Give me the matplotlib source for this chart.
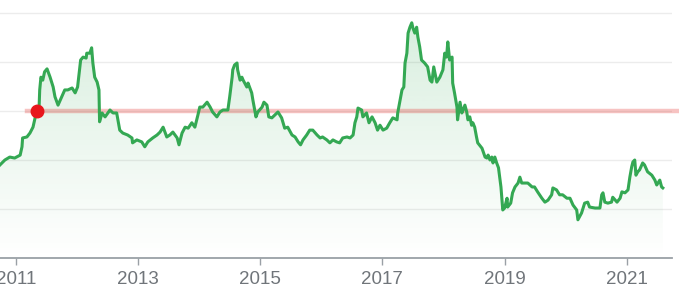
import numpy as np
import matplotlib
matplotlib.use('Agg')
import matplotlib.pyplot as plt

# == price history (decimal year, price) == #
years = [2010.74, 2010.82, 2010.90, 2010.98, 2011.07, 2011.10, 2011.11, 2011.18, 2011.23, 2011.28,
         2011.34, 2011.38, 2011.39, 2011.41, 2011.44, 2011.47, 2011.51, 2011.56, 2011.61, 2011.64,
         2011.69, 2011.75, 2011.80, 2011.85, 2011.92, 2011.97, 2012.01, 2012.06, 2012.10, 2012.15,
         2012.16, 2012.21, 2012.24, 2012.26, 2012.29, 2012.33, 2012.36, 2012.37, 2012.41, 2012.46,
         2012.54, 2012.59, 2012.65, 2012.70, 2012.75, 2012.83, 2012.90, 2012.91, 2012.98, 2013.06,
         2013.11, 2013.16, 2013.24, 2013.31, 2013.36, 2013.41, 2013.47, 2013.52, 2013.57, 2013.64,
         2013.67, 2013.72, 2013.77, 2013.82, 2013.88, 2013.93, 2013.98, 2014.01, 2014.06, 2014.13,
         2014.18, 2014.22, 2014.29, 2014.34, 2014.39, 2014.47, 2014.50, 2014.54, 2014.55, 2014.58,
         2014.62, 2014.63, 2014.67, 2014.70, 2014.72, 2014.78, 2014.80, 2014.86, 2014.88, 2014.93,
         2014.96, 2015.03, 2015.06, 2015.11, 2015.14, 2015.19, 2015.24, 2015.29, 2015.35, 2015.40,
         2015.45, 2015.52, 2015.57, 2015.62, 2015.66, 2015.70, 2015.76, 2015.81, 2015.86, 2015.93,
         2015.98, 2016.02, 2016.09, 2016.14, 2016.19, 2016.25, 2016.30, 2016.35, 2016.42, 2016.47,
         2016.52, 2016.55, 2016.58, 2016.60, 2016.66, 2016.68, 2016.74, 2016.78, 2016.83, 2016.88,
         2016.92, 2016.96, 2017.01, 2017.07, 2017.12, 2017.17, 2017.24, 2017.25, 2017.28, 2017.32,
         2017.35, 2017.37, 2017.40, 2017.42, 2017.45, 2017.48, 2017.50, 2017.53, 2017.56, 2017.58,
         2017.61, 2017.64, 2017.69, 2017.74, 2017.78, 2017.81, 2017.84, 2017.89, 2017.94, 2017.99,
         2018.02, 2018.05, 2018.07, 2018.10, 2018.14, 2018.15, 2018.18, 2018.22, 2018.23, 2018.27,
         2018.30, 2018.32, 2018.35, 2018.38, 2018.40, 2018.43, 2018.46, 2018.48, 2018.51, 2018.54,
         2018.56, 2018.63, 2018.68, 2018.71, 2018.73, 2018.76, 2018.79, 2018.81, 2018.84, 2018.87,
         2018.90, 2018.94, 2018.97, 2019.00, 2019.04, 2019.05, 2019.10, 2019.13, 2019.17, 2019.22,
         2019.25, 2019.28, 2019.33, 2019.38, 2019.45, 2019.49, 2019.54, 2019.61, 2019.66, 2019.71,
         2019.77, 2019.79, 2019.85, 2019.90, 2019.95, 2020.02, 2020.07, 2020.12, 2020.18, 2020.20,
         2020.26, 2020.31, 2020.36, 2020.39, 2020.48, 2020.56, 2020.59, 2020.61, 2020.64, 2020.69,
         2020.75, 2020.77, 2020.84, 2020.89, 2020.92, 2020.97, 2021.02, 2021.05, 2021.08, 2021.10,
         2021.13, 2021.15, 2021.18, 2021.21, 2021.26, 2021.29, 2021.34, 2021.41, 2021.46, 2021.49,
         2021.54, 2021.57, 2021.59]
prices = [19.0, 20.0, 20.6, 20.4, 21.0, 22.7, 24.5, 24.7, 25.5, 26.7,
          30.0, 30.8, 34.3, 36.9, 36.3, 38.0, 38.6, 36.9, 34.9, 32.9,
          31.2, 32.9, 34.3, 34.3, 34.7, 33.7, 34.9, 40.4, 41.0, 40.8,
          41.8, 41.8, 42.9, 39.8, 36.9, 35.9, 34.3, 27.8, 29.6, 28.8,
          30.2, 29.6, 29.6, 26.1, 25.5, 25.1, 24.5, 23.5, 24.1, 23.7,
          22.7, 23.7, 24.5, 25.1, 25.7, 26.7, 24.7, 25.1, 25.7, 24.5,
          23.1, 25.5, 26.7, 26.5, 27.6, 26.7, 29.2, 30.8, 30.8, 31.8,
          30.8, 29.8, 28.8, 29.8, 30.2, 30.2, 32.9, 36.9, 38.4, 39.4,
          39.8, 38.4, 36.3, 36.9, 36.3, 34.9, 35.7, 33.7, 32.2, 28.8,
          29.8, 30.8, 31.8, 31.2, 28.8, 28.6, 29.2, 29.8, 28.6, 26.5,
          26.7, 25.1, 24.7, 23.7, 23.1, 24.1, 25.1, 26.1, 26.1, 25.1,
          24.5, 24.7, 24.1, 23.5, 24.1, 23.7, 23.5, 24.5, 24.7, 24.5,
          25.1, 27.6, 28.8, 30.6, 30.2, 28.8, 29.6, 27.6, 28.8, 27.6,
          26.1, 27.1, 26.1, 26.5, 27.6, 28.6, 28.2, 29.6, 31.6, 34.3,
          34.9, 39.8, 41.8, 45.9, 47.1, 48.0, 46.9, 45.9, 47.1, 45.1,
          43.1, 40.4, 39.8, 39.0, 36.3, 35.9, 39.0, 35.9, 36.9, 38.4,
          41.8, 41.0, 44.1, 40.4, 41.0, 35.7, 33.7, 30.8, 28.2, 31.8,
          29.6, 30.2, 31.2, 29.8, 28.2, 28.8, 27.1, 27.6, 26.7, 24.7,
          23.5, 22.4, 20.6, 20.4, 21.0, 20.0, 20.6, 19.4, 20.6, 19.4,
          18.4, 14.5, 9.8, 10.2, 12.2, 10.4, 11.2, 13.3, 14.5, 15.3,
          16.5, 15.3, 15.3, 15.3, 14.5, 14.5, 13.5, 12.2, 11.4, 11.8,
          12.9, 14.3, 13.9, 12.9, 12.9, 12.2, 12.2, 10.8, 9.8, 7.8,
          9.2, 11.2, 11.4, 10.4, 10.2, 10.2, 12.9, 13.3, 11.4, 11.2,
          11.4, 12.4, 11.4, 12.2, 13.5, 13.3, 13.9, 16.5, 18.6, 19.6,
          20.0, 16.9, 17.6, 18.0, 19.4, 19.0, 17.6, 16.9, 15.9, 14.9,
          15.9, 14.5, 14.3]

ref_year = 2011.34      # red marker
ref_price = 30.0        # reference level
tick_years = [2011, 2013, 2015, 2017, 2019, 2021]
grid_levels = [10, 20, 30, 40, 50]

GREEN = '#34a853'
RED = '#e8161c'

fig = plt.figure(figsize=(6.79, 2.98), dpi=100)
ax = fig.add_axes([0, 0.1342, 672 / 679, 0.8386])
ax.set_xlim(2010.74, 2021.74)
ax.set_ylim(0, 51)

# gradient fill under the line
grad = np.linspace(1, 0, 256).reshape(-1, 1)
rgba = np.zeros((256, 1, 4))
rgba[..., 0], rgba[..., 1], rgba[..., 2] = 0x34 / 255, 0xa8 / 255, 0x53 / 255
rgba[..., 3] = 0.2 * grad
img = ax.imshow(rgba, extent=[2010.74, 2021.74, 0, 51], aspect='auto',
                origin='upper', zorder=1)
poly = ax.fill_between(years, prices, 0, color='none', lw=0)
img.set_clip_path(poly.get_paths()[0], transform=ax.transData)

ax.axhline(ref_price, xmin=(2011.18 - 2010.74) / 11.0, xmax=1.02, color='#e53935',
           alpha=0.3, lw=3.2, zorder=2, clip_on=False)
ax.plot(years, prices, color=GREEN, lw=2.2, zorder=3, solid_joinstyle='round')
ax.plot([ref_year], [ref_price], 'o', color=RED, ms=9, zorder=4)

ax.set_yticks(grid_levels)
ax.yaxis.grid(True, color='#ececec', lw=1)
ax.tick_params(axis='y', length=0, labelleft=False)
ax.set_xticks(tick_years)
ax.set_xticklabels([str(y) for y in tick_years])
ax.tick_params(axis='x', length=5, width=1, color='#9aa0a6', pad=4,
               labelsize=13.5, labelcolor='#70757a')
for lab in ax.get_xticklabels():
    lab.set_fontfamily('Liberation Sans')
for s in ['top', 'right', 'left']:
    ax.spines[s].set_visible(False)
ax.spines['bottom'].set_color('#9aa0a6')
ax.spines['bottom'].set_linewidth(1.3)
ax.set_axisbelow(True)

fig.savefig('out.png', dpi=100)
